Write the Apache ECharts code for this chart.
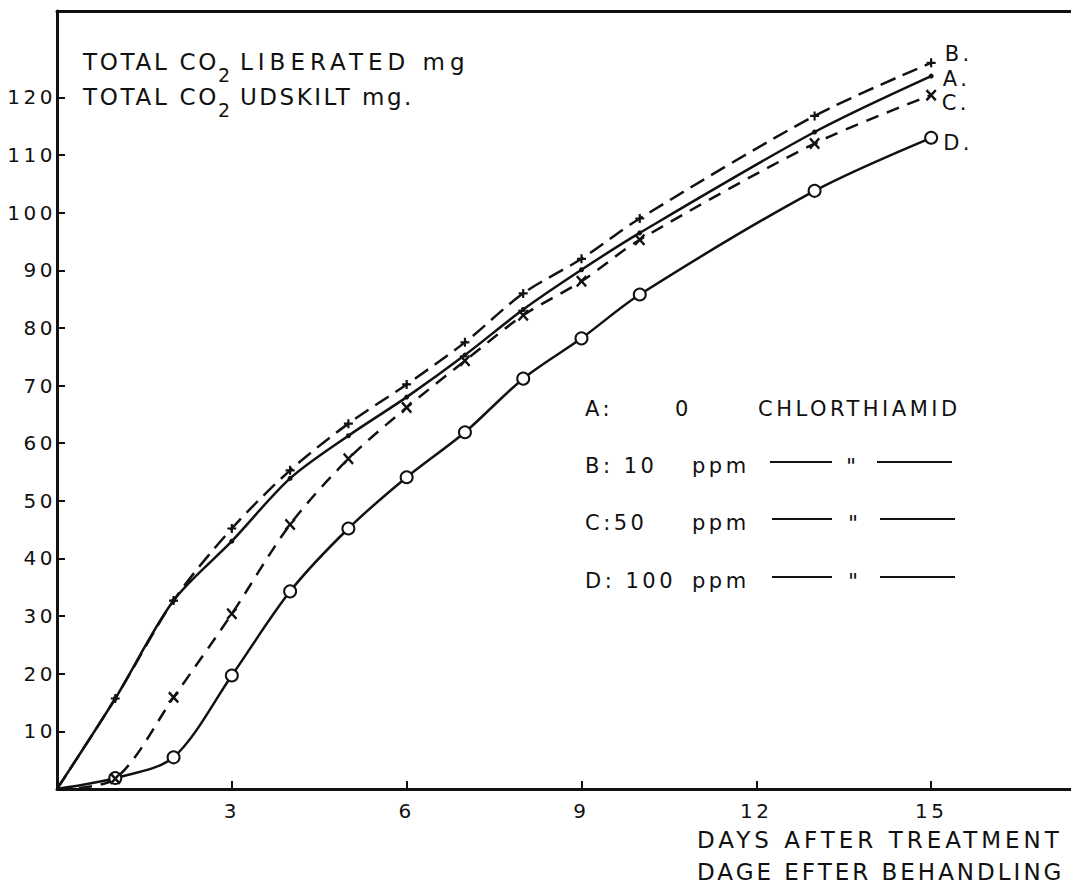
<!DOCTYPE html>
<html>
<head>
<meta charset="utf-8">
<script src="https://cdn.jsdelivr.net/npm/echarts@6/dist/echarts.min.js"></script>
<style>
  html, body { margin: 0; padding: 0; background: #fff; }
  #chart { width: 1071px; height: 884px; }
  #chart text { letter-spacing: 3.5px; }
</style>
</head>
<body>
<div id="chart"></div>
<script>
// days after treatment
const days = [0, 1, 2, 3, 4, 5, 6, 7, 8, 9, 10, 13, 15];
// total CO2 liberated, mg
const seriesA = [0, 15.7, 32.7, 43.0, 53.9, 61.3, 68.0, 75.3, 83.2, 90.1, 96.5, 114.0, 123.7];
const seriesB = [0, 15.7, 32.7, 45.2, 55.3, 63.4, 70.2, 77.5, 86.0, 92.0, 99.0, 116.8, 126.0];
const seriesC = [0, 1.8, 15.9, 30.4, 45.9, 57.3, 66.2, 74.3, 82.2, 88.1, 95.3, 112.0, 120.4];
const seriesD = [0, 1.9, 5.5, 19.7, 34.3, 45.2, 54.1, 61.9, 71.2, 78.2, 85.8, 103.8, 113.0];
const xTicks = [3, 6, 9, 12, 15];
const yTicks = [10, 20, 30, 40, 50, 60, 70, 80, 90, 100, 110, 120];

const INK = "#111";
const FONT = "DejaVu Sans";
const PLUS = "path://M3.8,0H6.2V3.8H10V6.2H6.2V10H3.8V6.2H0V3.8H3.8Z";
const CROSS = "path://M0,1.5L1.5,0L5,3.5L8.5,0L10,1.5L6.5,5L10,8.5L8.5,10L5,6.5L1.5,10L0,8.5L3.5,5Z";

// the old lettering is spaced out unevenly, so some texts get their own spacing
const spacing = {
  "TOTAL CO": 2.7,
  "LIBERATED mg": 5,
  "UDSKILT mg.": 2.5,
  "DAYS AFTER TREATMENT": 4,
  "DAGE EFTER BEHANDLING": 3
};

function points(vals, name, offset) {
  return days.map((d, i) => {
    const p = { value: [d, vals[i]] };
    if (i === 0) p.symbol = "none";
    if (i === days.length - 1) {
      p.label = {
        show: true, formatter: name, position: "right", offset: offset,
        color: INK, fontFamily: FONT, fontSize: 21
      };
    }
    return p;
  });
}

function line(name, vals, type, symbol, size, offset, extra) {
  return Object.assign({
    name: name,
    type: "line",
    smooth: 0.3,
    data: points(vals, name + ".", offset),
    symbol: symbol,
    symbolSize: size,
    showAllSymbol: true,
    lineStyle: { color: INK, width: 2.5, type: type },
    itemStyle: { color: INK },
    emphasis: { disabled: true },
    animation: false
  }, extra || {});
}

function txt(x, y, text, size, extra) {
  return {
    type: "text", x: x, y: y,
    style: Object.assign({
      text: text, fill: INK, font: size + "px '" + FONT + "'",
      textAlign: "left", textVerticalAlign: "middle"
    }, extra || {})
  };
}

function seg(x1, x2, y) {
  return { type: "line", shape: { x1: x1, y1: y, x2: x2, y2: y }, style: { stroke: INK, lineWidth: 2 } };
}

const chart = echarts.init(document.getElementById("chart"), null, { renderer: "svg" });

chart.setOption({
  backgroundColor: "#fff",
  animation: false,
  grid: { left: 57, right: 0, top: 11, bottom: 95 },
  xAxis: [{
    type: "value", min: 0, max: 17.4,
    axisLine: { lineStyle: { color: INK, width: 3 } },
    axisTick: { customValues: xTicks, inside: true, length: 8, lineStyle: { color: INK, width: 2 } },
    axisLabel: { customValues: xTicks, color: INK, fontFamily: FONT, fontSize: 20, margin: 12 },
    splitLine: { show: false }
  }, {
    type: "value", min: 0, max: 17.4, position: "top",
    axisLine: { lineStyle: { color: INK, width: 3 } },
    axisTick: { show: false }, axisLabel: { show: false }, splitLine: { show: false }
  }],
  yAxis: {
    type: "value", min: 0, max: 135,
    axisLine: { show: true, lineStyle: { color: INK, width: 3 } },
    axisTick: { customValues: yTicks, inside: true, length: 8, lineStyle: { color: INK, width: 2 } },
    axisLabel: { customValues: yTicks, color: INK, fontFamily: FONT, fontSize: 20, margin: 1 },
    splitLine: { show: false }
  },
  series: [
    line("A", seriesA, "solid", "circle", 5, [4, 3]),
    line("B", seriesB, [16, 8], PLUS, 9, [4, -9]),
    line("D", seriesD, "solid", "emptyCircle", 12, [0, 5], {
      itemStyle: { color: INK, borderColor: INK, borderWidth: 2 }
    }),
    // C drawn last so its cross shows inside the day-1 circle
    line("C", seriesC, [13, 9], CROSS, [11, 12], [0, 8], { z: 3 })
  ],
  graphic: [
    txt(83, 62, "TOTAL CO", 23),
    txt(218, 75, "2", 19),
    txt(240, 62, "LIBERATED mg", 23),
    txt(83, 97, "TOTAL CO", 23),
    txt(218, 110, "2", 19),
    txt(240, 97, "UDSKILT mg.", 23),

    txt(585, 409, "A:", 21),
    txt(675, 409, "0", 21),
    txt(758, 409, "CHLORTHIAMID", 21),

    txt(585, 466, "B: 10", 21),
    txt(692, 466, "ppm", 21),
    seg(770, 832, 462), txt(846, 455, "\"", 22, { textVerticalAlign: "top" }), seg(877, 952, 462),

    txt(585, 523, "C:50", 21),
    txt(692, 523, "ppm", 21),
    seg(772, 832, 519), txt(848, 512, "\"", 22, { textVerticalAlign: "top" }), seg(880, 955, 519),

    txt(585, 581, "D: 100", 21),
    txt(692, 581, "ppm", 21),
    seg(772, 832, 577), txt(848, 570, "\"", 22, { textVerticalAlign: "top" }), seg(880, 955, 577),

    txt(697, 840, "DAYS AFTER TREATMENT", 23),
    txt(697, 872, "DAGE EFTER BEHANDLING", 23)
  ]
});

function applySpacing() {
  document.querySelectorAll("#chart text").forEach(t => {
    const s = spacing[t.textContent];
    if (s != null) t.style.letterSpacing = s + "px";
  });
}
chart.getZr().flush();
applySpacing();
chart.on("finished", applySpacing);
</script>
</body>
</html>
